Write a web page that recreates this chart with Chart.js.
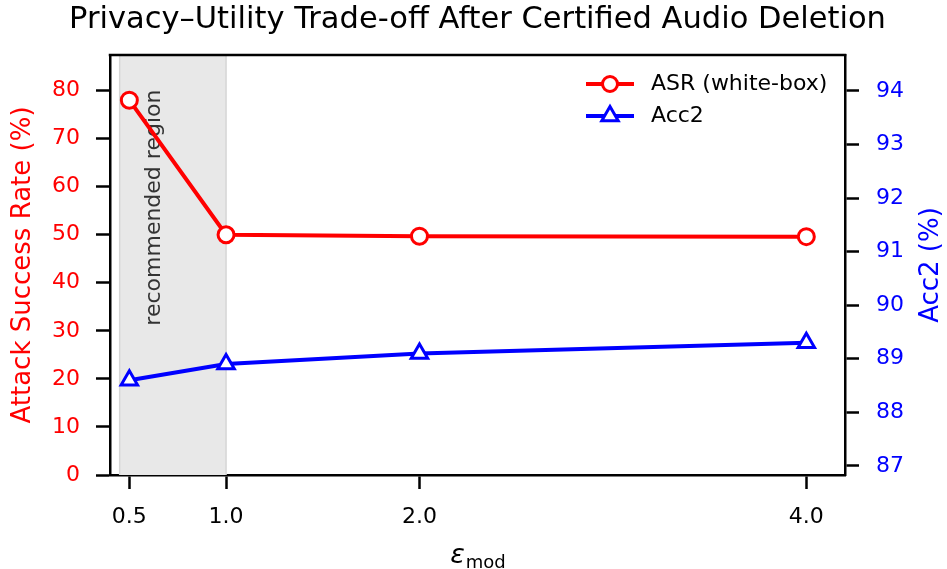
<!DOCTYPE html>
<html>
<head>
<meta charset="utf-8">
<script src="https://cdn.jsdelivr.net/npm/chart.js@4.4.1/dist/chart.umd.min.js"></script>
<style>
  html, body { margin: 0; padding: 0; background: #fff; }
  canvas { display: block; }
</style>
</head>
<body>
<canvas id="myChart" width="947" height="569"></canvas>
<script>
// data
const epsValues = [0.5, 1.0, 2.0, 4.0];
const asrValues = [78.0, 50.0, 49.7, 49.6];
const accValues = [88.6, 88.9, 89.1, 89.3];
const xTicks = [0.5, 1.0, 2.0, 4.0];
const asrTicks = [0, 10, 20, 30, 40, 50, 60, 70, 80];
const accTicks = [87, 88, 89, 90, 91, 92, 93, 94];
const shadeFrom = 0.45;
const shadeTo = 1.0;

const FONT = "'DejaVu Sans', sans-serif";
const RED = '#ff0000';
const BLUE = '#0000ff';

function pts(ys){
  return epsValues.map((x, i) => ({x: x, y: ys[i]}));
}

function drawMarker(ctx, style, x, y, r){
  ctx.beginPath();
  if (style === 'triangle') {
    for (let k = 0; k < 3; k++) {
      const a = k * 2 * Math.PI / 3;
      const px = x + Math.sin(a) * r, py = y - Math.cos(a) * r;
      if (k === 0) ctx.moveTo(px, py); else ctx.lineTo(px, py);
    }
    ctx.closePath();
  } else {
    ctx.arc(x, y, r, 0, Math.PI * 2);
  }
  ctx.fill();
  ctx.stroke();
}

// grey band + its label, under the lines
const shadePlugin = {
  id: 'shade',
  beforeDatasetsDraw(chart){
    const {ctx, chartArea} = chart;
    const xs = chart.scales.x;
    const ys = chart.scales.y;
    const x0 = xs.getPixelForValue(shadeFrom);
    const x1 = xs.getPixelForValue(shadeTo);
    ctx.save();
    ctx.fillStyle = '#e8e8e8';
    ctx.fillRect(x0, chartArea.top, x1 - x0, chartArea.bottom - chartArea.top);
    ctx.strokeStyle = '#d6d6d6';
    ctx.lineWidth = 1.5;
    ctx.beginPath();
    ctx.moveTo(x0, chartArea.top); ctx.lineTo(x0, chartArea.bottom);
    ctx.moveTo(x1, chartArea.top); ctx.lineTo(x1, chartArea.bottom);
    ctx.stroke();
    // rotated label
    ctx.translate(xs.getPixelForValue(0.63), ys.getPixelForValue(80.2));
    ctx.rotate(-Math.PI / 2);
    ctx.fillStyle = '#333333';
    ctx.font = '22px ' + FONT;
    ctx.textAlign = 'right';
    ctx.textBaseline = 'middle';
    ctx.fillText('recommended region', 0, 0);
    ctx.restore();
  }
};

// top edge of the frame, legend, right axis title and x label
const decoPlugin = {
  id: 'deco',
  afterDraw(chart){
    const {ctx, chartArea} = chart;
    ctx.save();
    ctx.strokeStyle = '#000';
    ctx.lineWidth = 2.5;
    ctx.beginPath();
    ctx.moveTo(chartArea.left - 1.25, chartArea.top);
    ctx.lineTo(chartArea.right + 1.25, chartArea.top);
    ctx.stroke();

    // legend
    const items = [
      {label: 'ASR (white-box)', color: RED, style: 'circle', r: 7.5},
      {label: 'Acc2', color: BLUE, style: 'triangle', r: 9.5}
    ];
    const lx = 586, lw = 48, ly0 = 84, dy = 32;
    items.forEach((it, i) => {
      const y = ly0 + i * dy;
      ctx.strokeStyle = it.color;
      ctx.lineWidth = 4;
      ctx.beginPath();
      ctx.moveTo(lx, y); ctx.lineTo(lx + lw, y);
      ctx.stroke();
      ctx.fillStyle = '#fff';
      ctx.lineWidth = 3;
      drawMarker(ctx, it.style, lx + lw / 2, y, it.r);
      ctx.fillStyle = '#000';
      ctx.font = '22px ' + FONT;
      ctx.textAlign = 'left';
      ctx.textBaseline = 'middle';
      ctx.fillText(it.label, 651, y);
    });

    // right axis title, reading bottom to top
    ctx.save();
    ctx.translate(931, (chartArea.top + chartArea.bottom) / 2);
    ctx.rotate(-Math.PI / 2);
    ctx.fillStyle = BLUE;
    ctx.font = '26px ' + FONT;
    ctx.textAlign = 'center';
    ctx.textBaseline = 'middle';
    ctx.fillText('Acc2 (%)', 0, 0);
    ctx.restore();

    // x axis label: epsilon with subscript "mod"
    const cx = (chartArea.left + chartArea.right) / 2;
    const base = 563;
    ctx.fillStyle = '#000';
    ctx.textBaseline = 'alphabetic';
    ctx.font = 'italic 27px ' + FONT;
    const w1 = ctx.measureText('ε').width;
    ctx.font = '18px ' + FONT;
    const w2 = ctx.measureText('mod').width;
    const start = cx - (w1 + w2) / 2;
    ctx.textAlign = 'left';
    ctx.font = 'italic 27px ' + FONT;
    ctx.fillText('ε', start, base);
    ctx.font = '18px ' + FONT;
    ctx.fillText('mod', start + w1 + 1, base + 5);
    ctx.restore();
  }
};

const data = {
  datasets: [
    {
      label: 'ASR (white-box)',
      data: pts(asrValues),
      yAxisID: 'y',
      borderColor: RED,
      backgroundColor: RED,
      borderWidth: 4,
      pointStyle: 'circle',
      pointRadius: 8,
      pointHoverRadius: 8,
      pointBorderWidth: 3,
      pointBackgroundColor: '#fff',
      pointBorderColor: RED,
      tension: 0,
      clip: false
    },
    {
      label: 'Acc2',
      data: pts(accValues),
      yAxisID: 'y1',
      borderColor: BLUE,
      backgroundColor: BLUE,
      borderWidth: 4,
      pointStyle: 'triangle',
      pointRadius: 9.5,
      pointHoverRadius: 9.5,
      pointBorderWidth: 3,
      pointBackgroundColor: '#fff',
      pointBorderColor: BLUE,
      tension: 0,
      clip: false
    }
  ]
};

const config = {
  type: 'line',
  data,
  options: {
    responsive: false,
    animation: false,
    devicePixelRatio: 1,
    layout: { padding: { left: 8, right: 0, top: 0, bottom: 0 } },
    plugins: {
      legend: { display: false },
      tooltip: { enabled: false },
      title: {
        display: true,
        text: 'Privacy\u2013Utility Trade-off After Certified Audio Deletion',
        color: '#000',
        font: { family: FONT, size: 30.5, weight: 'normal', lineHeight: 1.2 },
        padding: { top: 1.5, bottom: 16.9 }
      }
    },
    scales: {
      x: {
        type: 'linear',
        min: 0.4,
        max: 4.2,
        afterBuildTicks(s){ s.ticks = xTicks.map(v => ({value: v})); },
        afterFit(s){ s.height = 94; },
        ticks: {
          color: '#000',
          font: { family: FONT, size: 22 },
          padding: 15,
          maxRotation: 0,
          callback: v => v.toFixed(1)
        },
        grid: { drawOnChartArea: false, tickLength: 14, tickWidth: 2.5, tickColor: '#000' },
        border: { display: true, color: '#000', width: 2.5 }
      },
      y: {
        position: 'left',
        min: 0,
        max: 87.4,
        afterBuildTicks(s){ s.ticks = asrTicks.map(v => ({value: v})); },
        afterFit(s){ s.width = 102; },
        ticks: { color: RED, font: { family: FONT, size: 22 }, padding: 16 },
        grid: { drawOnChartArea: false, tickLength: 14, tickWidth: 2.5, tickColor: '#000' },
        border: { display: true, color: '#000', width: 2.5 },
        title: {
          display: true,
          text: 'Attack Success Rate (%)',
          color: RED,
          font: { family: FONT, size: 26 },
          padding: 0
        }
      },
      y1: {
        position: 'right',
        min: 86.83,
        max: 94.67,
        afterBuildTicks(s){ s.ticks = accTicks.map(v => ({value: v})); },
        afterFit(s){ s.width = 102; },
        ticks: { color: BLUE, font: { family: FONT, size: 22 }, padding: 17 },
        grid: { drawOnChartArea: false, tickLength: 14, tickWidth: 2.5, tickColor: '#000' },
        border: { display: true, color: '#000', width: 2.5 }
      }
    }
  },
  plugins: [shadePlugin, decoPlugin]
};

const myChart = new Chart(document.getElementById('myChart'), config);
</script>
</body>
</html>
